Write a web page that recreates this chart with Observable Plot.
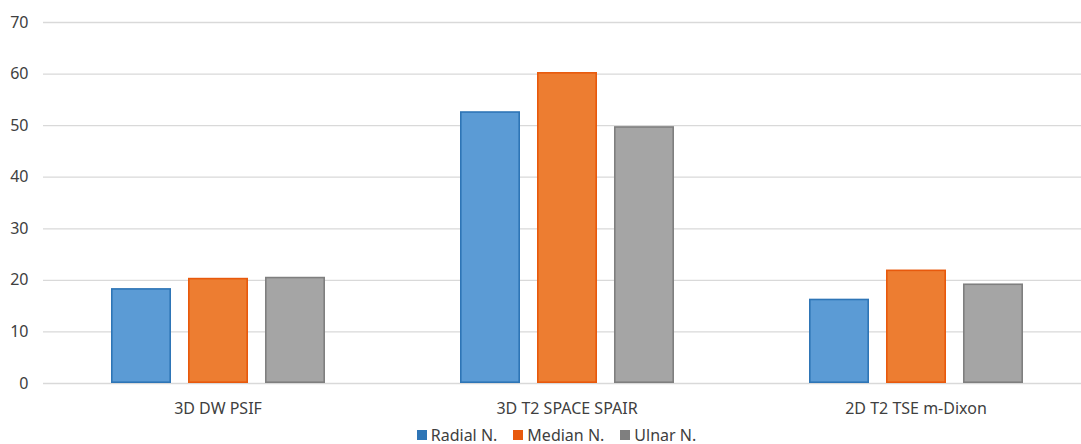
<!DOCTYPE html>
<html>
<head>
<meta charset="utf-8">
<script src="https://cdn.jsdelivr.net/npm/d3@7"></script>
<script src="https://cdn.jsdelivr.net/npm/@observablehq/plot@0.6"></script>
<style>
  html, body { margin: 0; padding: 0; background: #fff; overflow: hidden; }
  body { width: 1081px; height: 444px; font-family: "Noto Sans", "Open Sans", sans-serif; }
  #legend { display: flex; justify-content: center; align-items: center; gap: 16px; padding-left: 32px; margin-top: 6px; font-size: 16px; color: #404040; line-height: 18px; }
  #legend .item { display: flex; align-items: center; gap: 4px; }
  #legend .sw { width: 10px; height: 10px; display: inline-block; }
</style>
</head>
<body>
<div id="chart"></div>
<div id="legend"></div>
<script>
const groups = ["3D DW PSIF", "3D T2 SPACE SPAIR", "2D T2 TSE m-Dixon"];
const series = ["Radial N.", "Median N.", "Ulnar N."];
const radial = [18.4, 52.7, 16.35];
const median = [20.4, 60.3, 22.0];
const ulnar = [20.6, 49.8, 19.3];
const yTicks = [0, 10, 20, 30, 40, 50, 60, 70];
const fills = ["#5B9BD5", "#ED7D31", "#A5A5A5"];
const strokes = ["#2E75B6", "#E8590C", "#7F7F7F"];

const values = [radial, median, ulnar];
const data = [];
groups.forEach((g, gi) => {
  series.forEach((s, si) => {
    data.push({group: g, series: s, value: values[si][gi]});
  });
});

const chart = Plot.plot({
  width: 1081,
  height: 420,
  marginTop: 22,
  marginBottom: 37,
  marginLeft: 44,
  marginRight: 0,
  style: {fontFamily: '"Noto Sans", "Open Sans", sans-serif', fontSize: "16px", color: "#404040", background: "#fff"},
  fx: {domain: groups, range: [42, 1091], padding: 0, label: null, axis: null},
  x: {domain: series, paddingInner: 0.226, paddingOuter: 0.865, axis: null},
  y: {domain: [0, 70], axis: null},
  color: {domain: series, range: fills},
  marks: [
    Plot.ruleY(yTicks, {stroke: "#d9d9d9", strokeWidth: 1.3}),
    Plot.barY(data, {
      fx: "group", x: "series", y: "value",
      fill: "series",
      stroke: d => strokes[series.indexOf(d.series)],
      strokeWidth: 1.6,
      inset: 0.8
    }),
    Plot.axisFx({anchor: "bottom", tickSize: 0, tickPadding: 19, label: null, fill: "#404040", fontSize: 16}),
    Plot.axisY({ticks: yTicks, anchor: "left", tickSize: 0, tickPadding: 15, label: null, fill: "#404040", fontSize: 16})
  ]
});
document.getElementById("chart").appendChild(chart);

const legend = document.getElementById("legend");
series.forEach((s, i) => {
  const item = document.createElement("span");
  item.className = "item";
  const sw = document.createElement("span");
  sw.className = "sw";
  sw.style.background = strokes[i];
  item.appendChild(sw);
  const t = document.createElement("span");
  t.textContent = s;
  item.appendChild(t);
  legend.appendChild(item);
});
</script>
</body>
</html>
